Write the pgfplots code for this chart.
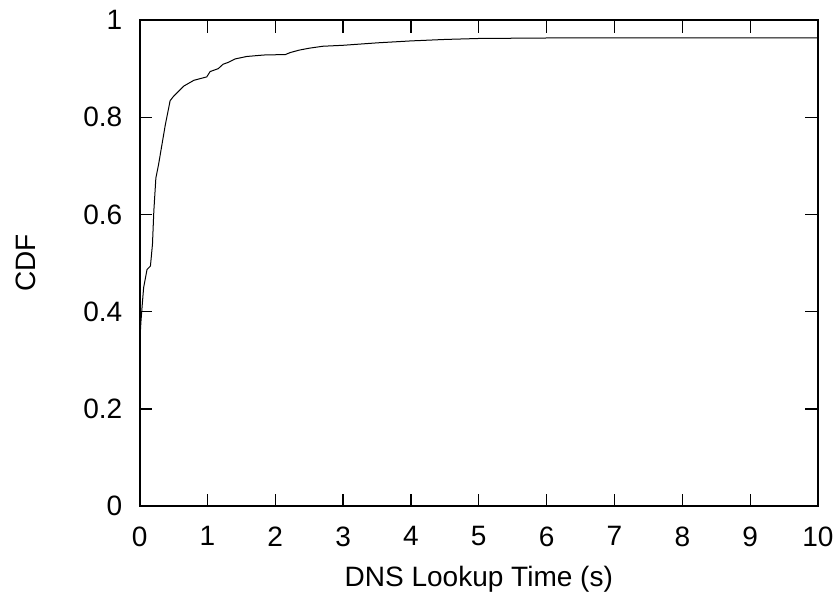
\documentclass[border=0pt]{standalone}
\usepackage{fontspec}
\setmainfont{Liberation Sans}
\usepackage{pgfplots}
\pgfplotsset{compat=1.18}

\begin{document}
\begin{tikzpicture}
\fontsize{14}{16}\selectfont
\begin{axis}[
    width=339pt, height=243pt, scale only axis,
    xmin=0, xmax=10, ymin=0, ymax=1,
    xtick={0,1,...,10}, ytick={0,0.2,...,1},
    yticklabels={0,0.2,0.4,0.6,0.8,1},
    tick align=inside, major tick length=6.3pt,
    axis line style={line width=1pt},
    tick style={line width=0.65pt, black},
    xlabel={DNS Lookup Time (s)}, ylabel={CDF},
    xlabel style={at={(rel axis cs:0.5,0)}, anchor=center, yshift=-36.5pt},
    ylabel style={at={(rel axis cs:0,0.5)}, anchor=center, yshift=57pt},
    /pgf/number format/assume math mode=true,
    ticklabel style={font=\fontsize{14}{16}\selectfont},
    label style={font=\fontsize{14}{16}\selectfont},
    xticklabel style={yshift=-5.3pt}, yticklabel style={xshift=-3.8pt},
]
\addplot[black, line width=0.5pt] coordinates {
(0,0.33) (0.02,0.38) (0.04,0.416) (0.06,0.45) (0.11,0.487) (0.16,0.494)
(0.19,0.539) (0.21,0.607) (0.24,0.675) (0.28,0.703) (0.33,0.744)
(0.38,0.785) (0.45,0.834) (0.50,0.843) (0.65,0.864) (0.80,0.876)
(0.99,0.883) (1.04,0.894) (1.16,0.900) (1.23,0.909) (1.31,0.913)
(1.41,0.920) (1.58,0.925) (1.83,0.928) (2.15,0.929) (2.22,0.933)
(2.35,0.938) (2.5,0.942) (2.7,0.946) (3.0,0.948) (3.5,0.953)
(4.0,0.957) (4.5,0.960) (5.0,0.962) (6.0,0.963) (10,0.963)
};
\coordinate (o) at (rel axis cs:0,0);
\coordinate (t) at (rel axis cs:1,1);
\end{axis}
\pgfresetboundingbox
\path ([shift={(-69.75pt,-43.5pt)}]o) rectangle ([shift={(8.5pt,10pt)}]t);
\end{tikzpicture}
\end{document}
